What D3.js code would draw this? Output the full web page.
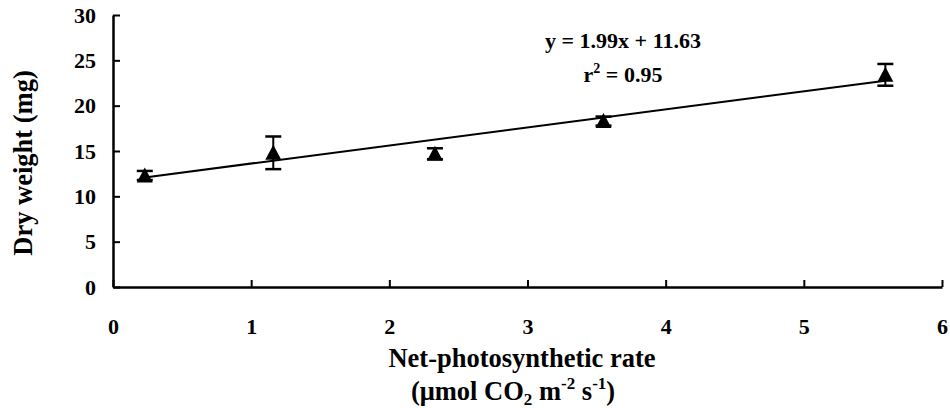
<!DOCTYPE html>
<meta charset="utf-8">
<title>Dry weight vs net-photosynthetic rate</title>
<script src="https://d3js.org/d3.v7.min.js"></script>
<style>
  body { margin: 0; background: #fff; }
</style>
<body>
<script>

var w = 950
var h = 408
var serif = "'Liberation Serif', 'Times New Roman', Times, 'DejaVu Serif', serif";

// data
var rate = [0.23, 1.16, 2.33, 3.55, 5.59];
var dryWeight = [12.3, 14.8, 14.7, 18.3, 23.4];
var sdErr = [0.5, 1.8, 0.6, 0.5, 1.2];
var xTicks = [0, 1, 2, 3, 4, 5, 6];
var yTicks = [0, 5, 10, 15, 20, 25, 30];
var slope = 1.99, intercept = 11.63;

var svg = d3.select("body")
  .append("svg")
  .attr("width", w)
  .attr("height", h)
  .style("font-family", serif)
  .style("font-weight", "bold");

var x = d3.scaleLinear().domain([0, 6]).range([113, 942]);
var y = d3.scaleLinear().domain([0, 30]).range([287, 15]);

// y axis
var yAxis = svg.append("g")
  .attr("transform", "translate(" + x(0) + ",0)")
  .call(d3.axisLeft(y).tickValues(yTicks).tickFormat(d3.format("d"))
    .tickSizeInner(-7).tickSizeOuter(0).tickPadding(17));

// x axis
var xAxis = svg.append("g")
  .attr("transform", "translate(0," + y(0) + ")")
  .call(d3.axisBottom(x).tickValues(xTicks).tickFormat(d3.format("d"))
    .tickSizeInner(-7).tickSizeOuter(0).tickPadding(31));

[yAxis, xAxis].forEach(function(g) {
  g.attr("font-family", null).attr("font-size", null);
  g.select(".domain").attr("stroke", "#000").attr("stroke-width", 2.5);
  g.selectAll(".tick line").attr("stroke", "#000").attr("stroke-width", 2);
  g.selectAll(".tick text").attr("fill", "#000")
    .style("font-family", serif).style("font-size", "22px");
});

// regression line
var xr = d3.extent(rate);
svg.append("line")
  .attr("x1", x(xr[0])).attr("y1", y(slope * xr[0] + intercept))
  .attr("x2", x(xr[1])).attr("y2", y(slope * xr[1] + intercept))
  .attr("stroke", "#000")
  .attr("stroke-width", 2);

// error bars
var pts = rate.map(function(d, i) { return {x: d, y: dryWeight[i], e: sdErr[i]}; });
var eb = svg.append("g").selectAll("g").data(pts).enter().append("g");
eb.append("line")
  .attr("x1", function(d) { return x(d.x); }).attr("x2", function(d) { return x(d.x); })
  .attr("y1", function(d) { return y(d.y - d.e); }).attr("y2", function(d) { return y(d.y + d.e); })
  .attr("stroke", "#000").attr("stroke-width", 2);
eb.selectAll(".cap").data(function(d) { return [[d.x, d.y - d.e], [d.x, d.y + d.e]]; })
  .enter().append("line")
  .attr("x1", function(d) { return x(d[0]) - 8; }).attr("x2", function(d) { return x(d[0]) + 8; })
  .attr("y1", function(d) { return y(d[1]); }).attr("y2", function(d) { return y(d[1]); })
  .attr("stroke", "#000").attr("stroke-width", 2.5);

// triangle markers
svg.append("g").selectAll("path").data(pts).enter().append("path")
  .attr("d", "M0,-8L8,7L-8,7Z")
  .attr("transform", function(d) { return "translate(" + x(d.x) + "," + y(d.y) + ")"; })
  .attr("fill", "#000");

function label(xp, yp, size) {
  return svg.append("text").attr("x", xp).attr("y", yp).attr("text-anchor", "middle")
    .style("font-family", serif).style("font-size", size + "px");
}

// equation
label(623, 48, 22).text("y = 1.99x + 11.63");
var r2 = label(623, 82, 22);
r2.append("tspan").text("r");
r2.append("tspan").attr("dy", -9).style("font-size", "14px").text("2");
r2.append("tspan").attr("dy", 9).text(" = 0.95");

// axis titles
svg.append("text")
  .attr("transform", "translate(32,163) rotate(-90)")
  .attr("text-anchor", "middle")
  .style("font-family", serif)
  .style("font-size", "26.5px")
  .text("Dry weight (mg)");

label(522, 367, 26.5).text("Net-photosynthetic rate");

var u = label(513, 400, 26.5);
u.append("tspan").text("(\u03bcmol CO");
u.append("tspan").attr("dy", 5).style("font-size", "17px").text("2");
u.append("tspan").attr("dy", -5).text(" m");
u.append("tspan").attr("dy", -11).style("font-size", "17px").text("-2");
u.append("tspan").attr("dy", 11).text(" s");
u.append("tspan").attr("dy", -11).style("font-size", "17px").text("-1");
u.append("tspan").attr("dy", 11).text(")");

</script>
</body>
